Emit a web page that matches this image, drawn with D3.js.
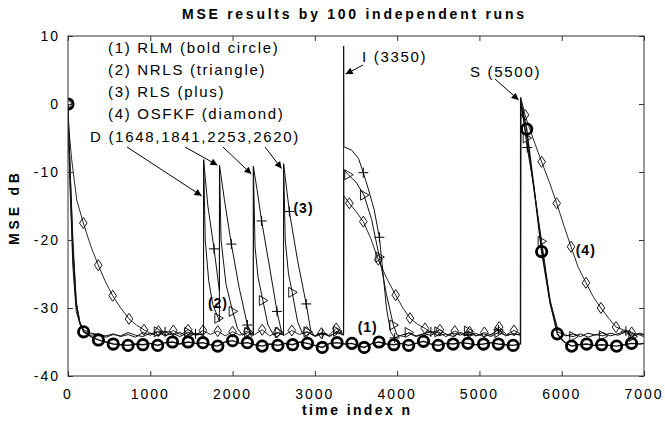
<!DOCTYPE html>
<html>
<head>
<meta charset="utf-8">
<script src="https://cdn.jsdelivr.net/npm/d3@7"></script>
<style>
  body { margin: 0; background: #fff; }
  svg text { font-family: "Liberation Sans", Arial, sans-serif; fill: #000; }
</style>
</head>
<body>
<svg id="chart" width="665" height="426"></svg>
<script>
// x ticks and y ticks
var xTicks = [0, 1000, 2000, 3000, 4000, 5000, 6000, 7000];
var yTicks = [10, 0, -10, -20, -30, -40];

// [n, dB, marker?]
var rlmData = [
    [0, 0, 1], [10, -5], [30, -12], [60, -22], [100, -29.5], [140, -32], [190, -33.5, 1], [280, -34.2],
    [370, -34.7, 1], [460, -35], [550, -35.3, 1], [640, -35.4], [730, -35.5, 1], [820, -35.3], [910, -35.4, 1],
    [1000, -35.2], [1090, -35.5, 1], [1180, -35.1], [1270, -35.0, 1], [1360, -35.3], [1460, -35.0, 1], [1550, -35.2],
    [1640, -35.1, 1], [1730, -35.4], [1820, -35.6, 1], [1910, -35.0], [2000, -34.8, 1], [2090, -35.2], [2180, -35.1, 1],
    [2270, -35.4], [2360, -35.6, 1], [2450, -35.3], [2550, -35.5, 1], [2640, -35.2], [2730, -35.4, 1], [2820, -35.0],
    [2910, -35.2, 1], [3000, -35.5], [3090, -35.8, 1], [3180, -35.2], [3270, -35.1, 1], [3360, -35.3], [3450, -35.2, 1],
    [3540, -35.6], [3600, -35.8, 1], [3700, -35.2], [3780, -35.0, 1], [3870, -35.3], [3960, -35.4, 1], [4050, -35.2],
    [4140, -35.5, 1], [4230, -35.2], [4320, -34.9, 1], [4410, -35.3], [4500, -35.5, 1], [4590, -35.2], [4680, -35.3, 1],
    [4770, -35.1], [4860, -35.2, 1], [4950, -35.4], [5050, -35.3, 1], [5140, -35.1], [5230, -35.3, 1], [5320, -35.4],
    [5410, -35.5, 1], [5499, -35.3], [5501, 0.5], [5574, -3.7, 1], [5650, -11], [5700, -16], [5756, -21.7, 1],
    [5850, -28.5], [5946, -33.8, 1], [6030, -35], [6121, -35.6, 1], [6210, -35.4], [6303, -35.3, 1], [6390, -35.5],
    [6485, -35.4, 1], [6580, -35.5], [6667, -35.6, 1], [6760, -35.4], [6849, -35.2, 1], [6950, -35.3], [7000, -35.2]
];

var nrlsData = [
    [0, 0], [10, -6], [30, -14], [60, -24], [100, -30.5], [150, -32.5], [200, -33.3], [280, -33.7], [370, -33.9],
    [460, -34.1], [550, -33.8], [640, -34.2], [730, -33.9], [820, -34.3], [910, -33.6], [1000, -34.0], [1090, -33.5, 1],
    [1180, -34.1], [1270, -33.7], [1360, -34.2], [1460, -33.6, 1], [1550, -34.0], [1647, -33.8], [1648, -8.2],
    [1668, -20], [1710, -26], [1760, -29.5], [1827, -31.5, 1], [1840, -32], [1841, -9], [1860, -20], [1920, -26.5],
    [2001, -30.5, 1], [2060, -33], [2120, -34], [2190, -33.6, 1], [2252, -34], [2253, -9.2], [2273, -21], [2310, -25.5],
    [2368, -28.9, 1], [2430, -32.5], [2500, -34], [2560, -33.6, 1], [2619, -34], [2620, -8.8], [2640, -20], [2680, -25],
    [2725, -27.7, 1], [2790, -32], [2850, -33.8], [2910, -33.5, 1], [3000, -34.1], [3090, -33.6], [3180, -34.2],
    [3270, -33.4, 1], [3349, -33.9], [3352, -9.7], [3406, -10.4, 1], [3500, -11.5], [3597, -13.4, 1], [3690, -17],
    [3784, -22.5, 1], [3870, -28], [3954, -32.5, 1], [4000, -34], [4090, -34.2], [4140, -33.6, 1], [4230, -34.1],
    [4320, -33.8], [4410, -34.0], [4500, -33.5, 1], [4590, -34.2], [4680, -33.7], [4770, -34.0], [4860, -33.4, 1],
    [4950, -34.1], [5050, -33.8], [5140, -34.2], [5230, -33.6, 1], [5320, -34.0], [5410, -33.8], [5499, -33.9],
    [5501, 0.2], [5574, -5, 1], [5650, -11.5], [5756, -20.2, 1], [5860, -29], [5950, -33], [6050, -34],
    [6140, -34.2, 1], [6230, -33.8], [6320, -34.3], [6410, -33.9], [6500, -34.1, 1], [6590, -33.7], [6680, -34.0],
    [6770, -33.6], [6860, -34.2, 1], [6950, -33.8], [7000, -34.0]
];

var rlsData = [
    [0, 0], [10, -4], [30, -11], [60, -20], [100, -29], [150, -32.5], [200, -33.5], [280, -34], [370, -33.8],
    [460, -34.3], [550, -33.9], [640, -34.1], [730, -33.6], [820, -34.0], [910, -34.2], [1000, -33.7], [1090, -34.1],
    [1180, -33.5, 1], [1270, -34.0], [1360, -33.6], [1460, -34.2], [1550, -33.8, 1], [1647, -34], [1648, -8.2],
    [1700, -15], [1775, -21.3, 1], [1840, -27.5], [1841, -9], [1900, -14], [1985, -20.6, 1], [2080, -27],
    [2180, -32.5, 1], [2230, -34.2], [2252, -34], [2253, -9.2], [2300, -12.8], [2353, -17.2, 1], [2450, -24],
    [2540, -30.5, 1], [2600, -33.8], [2619, -34], [2620, -8.8], [2690, -15.8, 1], [2790, -23], [2895, -29.4, 1],
    [2950, -33.3], [3000, -34.2], [3090, -33.8, 1], [3180, -34.1], [3270, -33.6], [3349, -34], [3350, 8.5],
    [3352, -6.3], [3450, -6.8], [3530, -8], [3589, -10.1, 1], [3650, -12.5], [3720, -15.5], [3784, -19.6, 1],
    [3830, -25], [3870, -30], [3920, -33.5], [3970, -34.4, 1], [4050, -34.0], [4140, -33.7], [4230, -34.2],
    [4320, -33.8], [4410, -33.5, 1], [4500, -34.1], [4590, -33.8], [4680, -34.2], [4770, -33.6], [4860, -34.0, 1],
    [4950, -33.7], [5050, -34.2], [5140, -33.9], [5230, -33.2, 1], [5320, -34.1], [5410, -33.8], [5499, -34],
    [5501, 0.8], [5581, -6.4, 1], [5660, -12], [5756, -21], [5860, -29.5], [5950, -33.5], [6050, -34.1],
    [6140, -33.8], [6230, -34.2], [6320, -33.7], [6410, -34.0], [6500, -33.6], [6590, -34.1], [6680, -33.8],
    [6780, -33.4, 1], [6860, -34.0], [6950, -33.7], [7000, -33.9]
];

var osfkfData = [
    [0, 0, 1], [5, -3], [45, -8.2], [106, -14.1], [186, -17.5, 1], [280, -21], [368, -23.7, 1], [450, -26],
    [543, -28.2, 1], [640, -30], [741, -31.6, 1], [830, -32.5], [923, -33.2, 1], [1010, -33.8], [1100, -33.4, 1],
    [1190, -34.0], [1280, -33.3, 1], [1370, -33.9], [1460, -33.2, 1], [1550, -34], [1640, -33.3, 1], [1730, -33.9],
    [1820, -33.4, 1], [1910, -34.1], [2000, -33.5, 1], [2090, -34.0], [2180, -33.4, 1], [2270, -33.9],
    [2360, -33.2, 1], [2450, -34.1], [2540, -33.6, 1], [2630, -34.0], [2720, -33.3, 1], [2810, -33.9],
    [2900, -33.5, 1], [2990, -34.1], [3080, -33.7, 1], [3170, -34.0], [3260, -33.0, 1], [3349, -33.8],
    [3352, -13.5], [3419, -14.6, 1], [3500, -15.8], [3589, -17.3, 1], [3680, -19.8], [3771, -22.9, 1],
    [3880, -25.8], [3982, -28.1, 1], [4070, -30], [4156, -31.5, 1], [4250, -32.4], [4338, -33, 1], [4430, -33.7],
    [4520, -33.2, 1], [4610, -34.0], [4700, -33.4, 1], [4790, -33.9], [4880, -33.5, 1], [4970, -34.1],
    [5060, -33.6, 1], [5150, -34.0], [5240, -32.8, 1], [5330, -33.9], [5420, -33.3, 1], [5499, -33.8],
    [5501, 1.0], [5554, -1.6, 1], [5650, -5], [5756, -8.5, 1], [5850, -11.5], [5939, -14.6, 1], [6030, -18],
    [6113, -21, 1], [6200, -24], [6295, -26.3, 1], [6390, -28.5], [6477, -30, 1], [6570, -31.5],
    [6659, -32.8, 1], [6750, -33.2], [6850, -33.6, 1], [6950, -34], [7000, -34.2]
];

// text notes, placed in data units
var legendLines = ["(1) RLM (bold circle)", "(2) NRLS (triangle)", "(3) RLS (plus)", "(4) OSFKF (diamond)"];
var dArrows = [[1648, -13.5], [1841, -9], [2253, -10.3], [2620, -9.5]];

var svg = d3.select("#chart");
var margin = {left: 68, right: 21, top: 36, bottom: 50};
var W = 665, H = 426;

var x = d3.scaleLinear().domain([0, 7000]).range([margin.left, W - margin.right]);
var y = d3.scaleLinear().domain([-40, 10]).range([H - margin.bottom, margin.top]);

var plot = svg.append("g");

// clip to frame
svg.append("clipPath").attr("id", "clip").append("rect")
    .attr("x", x(0)).attr("y", y(10)).attr("width", x(7000) - x(0)).attr("height", y(-40) - y(10));

var line = d3.line()
    .x(function (d) { return x(d[0]); })
    .y(function (d) { return y(d[1]); });

var lines = plot.append("g").attr("clip-path", "url(#clip)");

function drawSeries(data, width) {
    lines.append("path")
        .datum(data)
        .attr("d", line)
        .attr("fill", "none")
        .attr("stroke", "#111")
        .attr("stroke-width", width);
}
drawSeries(osfkfData, 0.9);
drawSeries(rlsData, 1);
drawSeries(nrlsData, 1);
drawSeries(rlmData, 1.4);

function marks(data) {
    return data.filter(function (d) { return d[2]; });
}

// diamonds
lines.selectAll(".dia").data(marks(osfkfData)).enter().append("path")
    .attr("class", "dia")
    .attr("d", "M0,-5.5L3.8,0L0,5.5L-3.8,0Z")
    .attr("transform", function (d) { return "translate(" + x(d[0]) + "," + y(d[1]) + ")"; })
    .attr("fill", "none").attr("stroke", "#000").attr("stroke-width", 0.9);

// triangles (pointing right)
lines.selectAll(".tri").data(marks(nrlsData)).enter().append("path")
    .attr("class", "tri")
    .attr("d", "M-3.5,-5L5,0L-3.5,5Z")
    .attr("transform", function (d) { return "translate(" + x(d[0]) + "," + y(d[1]) + ")"; })
    .attr("fill", "none").attr("stroke", "#000").attr("stroke-width", 0.9);

// plus
lines.selectAll(".plus").data(marks(rlsData)).enter().append("path")
    .attr("class", "plus")
    .attr("d", "M-5,0H5M0,-5V5")
    .attr("transform", function (d) { return "translate(" + x(d[0]) + "," + y(d[1]) + ")"; })
    .attr("fill", "none").attr("stroke", "#000").attr("stroke-width", 1);

// bold circles
lines.selectAll(".circ").data(marks(rlmData)).enter().append("circle")
    .attr("class", "circ")
    .attr("cx", function (d) { return x(d[0]); })
    .attr("cy", function (d) { return y(d[1]); })
    .attr("r", 5.2)
    .attr("fill", "none").attr("stroke", "#000").attr("stroke-width", 2.8);

// axes, ticks inside on all sides
var tickLen = 5;
var frame = svg.append("g");
frame.append("rect")
    .attr("x", x(0)).attr("y", y(10)).attr("width", x(7000) - x(0)).attr("height", y(-40) - y(10))
    .attr("fill", "none").attr("stroke", "#333").attr("stroke-width", 1);

frame.append("g").attr("transform", "translate(0," + y(-40) + ")")
    .call(d3.axisBottom(x).tickValues(xTicks).tickSize(-tickLen).tickFormat(""))
    .call(function (g) { g.select(".domain").remove(); });
frame.append("g").attr("transform", "translate(0," + y(10) + ")")
    .call(d3.axisTop(x).tickValues(xTicks).tickSize(-tickLen).tickFormat(""))
    .call(function (g) { g.select(".domain").remove(); });
frame.append("g").attr("transform", "translate(" + x(0) + ",0)")
    .call(d3.axisLeft(y).tickValues(yTicks).tickSize(-tickLen).tickFormat(""))
    .call(function (g) { g.select(".domain").remove(); });
frame.append("g").attr("transform", "translate(" + x(7000) + ",0)")
    .call(d3.axisRight(y).tickValues(yTicks).tickSize(-tickLen).tickFormat(""))
    .call(function (g) { g.select(".domain").remove(); });
frame.selectAll(".tick line").attr("stroke", "#333");

// tick labels
svg.append("g").selectAll("text").data(xTicks).enter().append("text")
    .attr("x", function (d) { return x(d); })
    .attr("y", y(-40) + 23)
    .attr("text-anchor", "middle")
    .style("font-size", "14px").style("letter-spacing", "2px")
    .text(function (d) { return d; });

svg.append("g").selectAll("text").data(yTicks).enter().append("text")
    .attr("x", x(0) - 8)
    .attr("y", function (d) { return y(d) + 5; })
    .attr("text-anchor", "end")
    .style("font-size", "14px").style("letter-spacing", "2px")
    .text(function (d) { return d; });

// titles
svg.append("text").attr("x", 182).attr("y", 19)
    .attr("textLength", 342).attr("lengthAdjust", "spacing")
    .style("font-size", "14px").style("font-weight", "bold")
    .text("MSE results by 100 independent runs");

svg.append("text").attr("x", 302).attr("y", 415)
    .attr("textLength", 108).attr("lengthAdjust", "spacing")
    .style("font-size", "14px").style("font-weight", "bold")
    .text("time index n");

svg.append("text").attr("transform", "translate(19,245) rotate(-90)")
    .attr("textLength", 72).attr("lengthAdjust", "spacing")
    .style("font-size", "14px").style("font-weight", "bold")
    .text("MSE dB");

// legend lines
var noteStyle = function (sel) {
    sel.style("font-size", "15px").style("letter-spacing", "1.7px");
};
svg.append("g").selectAll("text").data(legendLines).enter().append("text")
    .attr("x", 108)
    .attr("y", function (d, i) { return 53 + i * 22; })
    .call(noteStyle)
    .text(function (d) { return d; });

// arrows
var defs = svg.append("defs");
defs.append("marker").attr("id", "arr").attr("viewBox", "0 0 10 10")
    .attr("refX", 10).attr("refY", 5).attr("markerWidth", 9).attr("markerHeight", 7)
    .attr("markerUnits", "userSpaceOnUse").attr("orient", "auto")
    .append("path").attr("d", "M0,0L10,5L0,10Z").attr("fill", "#000");

function arrow(x1, y1, x2, y2) {
    svg.append("line").attr("x1", x1).attr("y1", y1).attr("x2", x2).attr("y2", y2)
        .attr("stroke", "#000").attr("stroke-width", 1).attr("marker-end", "url(#arr)");
}

svg.append("text").attr("x", 90).attr("y", 142)
    .call(noteStyle)
    .text("D (1648,1841,2253,2620)");
var dStarts = [127, 185, 223, 265];
dArrows.forEach(function (d, i) {
    arrow(dStarts[i], 147, x(d[0]) - 2, y(d[1]));
});

svg.append("text").attr("x", 362).attr("y", 62)
    .call(noteStyle)
    .text("I (3350)");
arrow(363, 65, x(3350) + 2, y(4.4));

svg.append("text").attr("x", 470).attr("y", 77)
    .call(noteStyle)
    .text("S (5500)");
arrow(495, 79, x(5500) - 2, y(0.6));

// curve labels
var curveLabels = [
    {t: "(1)", n: 3520, db: -32.8},
    {t: "(2)", n: 1700, db: -29.3},
    {t: "(3)", n: 2740, db: -15.3},
    {t: "(4)", n: 6170, db: -21.4}
];
svg.append("g").selectAll("text").data(curveLabels).enter().append("text")
    .attr("x", function (d) { return x(d.n); })
    .attr("y", function (d) { return y(d.db) + 5; })
    .style("font-size", "14px").style("font-weight", "bold").style("letter-spacing", "1px")
    .text(function (d) { return d.t; });
</script>
</body>
</html>
